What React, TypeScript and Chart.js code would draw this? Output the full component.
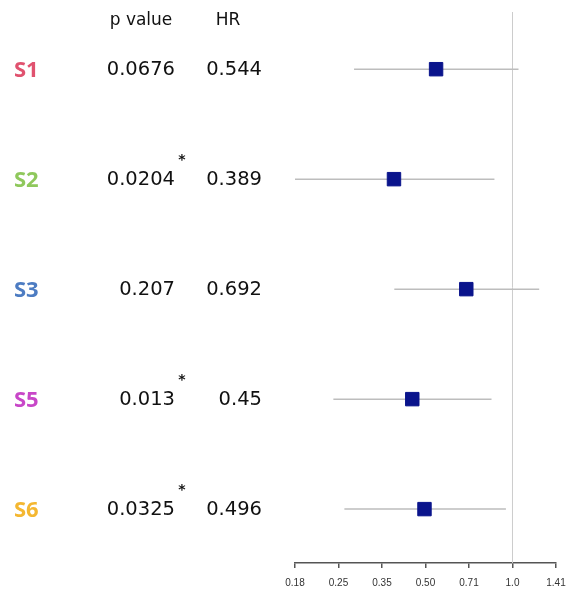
import React, { useEffect, useRef } from "react";
import { Chart, registerables } from "chart.js";

Chart.register(...registerables);

const GROUPS = ["S1", "S2", "S3", "S5", "S6"];
const GROUP_COLORS = ["#e0526f", "#8fc85c", "#4d7cc2", "#c847c8", "#f4b731"];
const P_VALUES = ["0.0676", "0.0204", "0.207", "0.013", "0.0325"];
const HR_VALUES = [0.544, 0.389, 0.692, 0.45, 0.496];
const CI_LOW = [0.283, 0.176, 0.39, 0.24, 0.262];
const CI_HIGH = [1.049, 0.866, 1.237, 0.846, 0.949];
const TICK_VALUES = [0.1768, 0.25, 0.3536, 0.5, 0.7071, 1.0, 1.4142];
const TICK_LABELS = ["0.18", "0.25", "0.35", "0.50", "0.71", "1.0", "1.41"];
const HR_LABELS = ["0.544", "0.389", "0.692", "0.45", "0.496"];

const textPlugin = {
  id: "forestText",
  beforeDatasetsDraw(chart: any) {
    const { ctx, chartArea, scales } = chart;
    const x1 = scales.x.getPixelForValue(1);
    ctx.save();
    ctx.strokeStyle = "#cccccc";
    ctx.lineWidth = 1;
    ctx.beginPath();
    ctx.moveTo(x1, chartArea.top);
    ctx.lineTo(x1, chartArea.bottom);
    ctx.stroke();
    ctx.restore();
  },
  afterDraw(chart: any) {
    const { ctx, scales } = chart;
    const ys = scales.y;
    ctx.save();
    ctx.fillStyle = "#111";
    ctx.font = '17px "DejaVu Sans"';
    ctx.textBaseline = "alphabetic";
    ctx.textAlign = "center";
    ctx.fillText("p value", 141, 25);
    ctx.fillText("HR", 228, 25);
    GROUPS.forEach((g, i) => {
      const y = ys.getPixelForValue(i);
      ctx.textBaseline = "middle";
      ctx.textAlign = "left";
      ctx.font = 'bold 22px "Open Sans"';
      ctx.fillStyle = GROUP_COLORS[i];
      ctx.fillText(g, 14, y + 2);
      ctx.fillStyle = "#111";
      ctx.font = '19.5px "DejaVu Sans"';
      ctx.textAlign = "right";
      ctx.fillText(P_VALUES[i], 175, y + 1);
      ctx.fillText(HR_LABELS[i], 262, y + 1);
      if (parseFloat(P_VALUES[i]) < 0.05) {
        ctx.font = 'bold 14px "DejaVu Sans"';
        ctx.textAlign = "center";
        ctx.fillText("*", 182, y - 19);
      }
    });
    ctx.restore();
  },
};

export default function App() {
  const ref = useRef<HTMLCanvasElement>(null);
  useEffect(() => {
    if (!ref.current) return;
    const whiskers = GROUPS.map((g, i) => ({
      type: "scatter" as const,
      label: g + " CI",
      data: [
        { x: CI_LOW[i], y: i },
        { x: CI_HIGH[i], y: i },
      ],
      showLine: true,
      borderColor: "#bdbdbd",
      borderWidth: 1.5,
      pointRadius: 0,
    }));
    const chart = new Chart(ref.current, {
      type: "scatter",
      data: {
        datasets: [
          {
            label: "HR",
            data: HR_VALUES.map((v, i) => ({ x: v, y: i })),
            pointStyle: "rect",
            pointRadius: 9.5,
            pointHoverRadius: 9.5,
            backgroundColor: "#0a148c",
            borderColor: "#0a148c",
            borderWidth: 1,
          },
          ...whiskers,
        ] as any,
      },
      options: {
        animation: false,
        responsive: true,
        maintainAspectRatio: false,
        layout: { padding: { left: 295, right: 11, top: 12, bottom: 0 } },
        plugins: { legend: { display: false }, tooltip: { enabled: false } },
        scales: {
          x: {
            type: "logarithmic",
            min: TICK_VALUES[0],
            max: TICK_VALUES[TICK_VALUES.length - 1],
            afterBuildTicks: (scale: any) => {
              scale.ticks = TICK_VALUES.map((v) => ({ value: v }));
            },
            afterFit: (scale: any) => {
              scale.height = 32;
              scale.paddingLeft = 0;
              scale.paddingRight = 0;
            },
            grid: {
              drawOnChartArea: false,
              drawTicks: true,
              tickLength: 5,
              color: "#555",
              lineWidth: 1.5,
            },
            border: { display: true, color: "#555", width: 1.5 },
            ticks: {
              autoSkip: false,
              maxRotation: 0,
              padding: 9,
              color: "#333",
              font: { family: "Liberation Sans", size: 10 },
              callback: (_v: any, idx: number) => TICK_LABELS[idx],
            },
          },
          y: {
            type: "linear",
            display: false,
            reverse: true,
            min: -0.52,
            max: 4.49,
          },
        },
      },
      plugins: [textPlugin],
    });
    return () => chart.destroy();
  }, []);
  return (
    <div style={{ position: "fixed", left: 0, top: 0, width: 567, height: 595, background: "#fff" }}>
      <canvas ref={ref} />
    </div>
  );
}
